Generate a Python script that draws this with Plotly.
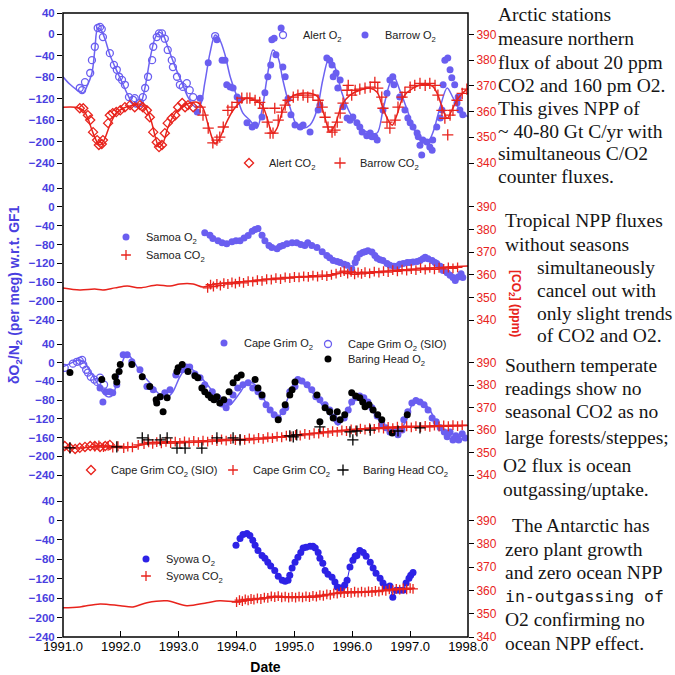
import plotly.graph_objects as go

# ------------------------------------------------------------------
# DATA  (decimal year, value) ; O2 in per meg, CO2 in ppm
# ------------------------------------------------------------------
# Panel 1 : Arctic (Alert / Barrow)
arctic_o2_fit = [(1991.00,-79),(1991.12,-93),(1991.29,-107),(1991.35,-109),(1991.41,-98),(1991.50,-72),
    (1991.55,-29),(1991.60,12),(1991.66,8),(1991.73,-10),(1991.81,-38),(1991.90,-61),(1992.02,-89),
    (1992.12,-113),(1992.24,-135),(1992.33,-132),(1992.42,-98),(1992.50,-48),(1992.59,-7),(1992.66,4),
    (1992.73,-1),(1992.81,-23),(1992.94,-61),(1993.06,-91),(1993.16,-117),(1993.28,-135),(1993.37,-132),
    (1993.45,-91),(1993.54,-35),(1993.63,-1),(1993.71,-10),(1993.80,-38),(1993.89,-79),(1994.01,-117),
    (1994.11,-147),(1994.23,-160),(1994.35,-175),(1994.44,-141),(1994.53,-79),(1994.63,-29),(1994.72,-44),
    (1994.80,-85),(1994.92,-135),(1995.04,-169),(1995.15,-175),(1995.27,-169),(1995.39,-141),(1995.49,-85),
    (1995.60,-44),(1995.70,-61),(1995.82,-109),(1995.96,-147),(1996.13,-175),(1996.31,-184),(1996.43,-184),
    (1996.53,-141),(1996.65,-91),(1996.72,-79),(1996.82,-104),(1996.95,-141),(1997.05,-173),(1997.17,-197),
    (1997.29,-203),(1997.39,-184),(1997.52,-135),(1997.64,-100),(1997.74,-118),(1997.86,-141),(1998.00,-154)]
alert_o2 = [(1991.29,-100),(1991.33,-104),(1991.38,-89),(1991.47,-72),(1991.50,-48),(1991.55,-23),
    (1991.60,12),(1991.64,14),(1991.67,10),(1991.69,-5),(1991.81,-35),(1991.88,-57),(1991.93,-66),
    (1991.97,-79),(1992.02,-85),(1992.07,-94),(1992.14,-117),(1992.21,-122),(1992.24,-119),(1992.33,-128),
    (1992.38,-117),(1992.42,-100),(1992.47,-79),(1992.54,-48),(1992.56,-23),(1992.62,-5),(1992.66,2),
    (1992.71,2),(1992.76,-8),(1992.81,-29),(1992.88,-48),(1992.90,-61),(1992.97,-79),(1993.02,-94),
    (1993.07,-98),(1993.14,-91),(1993.19,-104),(1993.25,-117),(1993.63,-3)]
barrow_o2 = [(1993.32,-145),(1993.37,-119),(1993.51,-53),(1993.66,-10),(1993.75,-48),(1993.80,-48),
    (1993.83,-94),(1993.89,-98),(1993.94,-100),(1994.01,-117),(1994.06,-122),(1994.18,-165),(1994.27,-173),
    (1994.32,-169),(1994.44,-154),(1994.49,-109),(1994.54,-79),(1994.59,-57),(1994.61,-10),(1994.65,-7),
    (1994.68,-38),(1994.77,12),(1994.80,-61),(1994.84,-79),(1994.89,-120),(1994.94,-150),(1995.01,-169),
    (1995.10,-173),(1995.15,-169),(1995.27,-182),(1995.41,-141),(1995.44,-132),(1995.56,-44),(1995.61,-48),
    (1995.65,-57),(1995.67,-79),(1995.72,-72),(1995.75,-100),(1995.79,-85),(1995.84,-135),(1995.91,-156),
    (1995.96,-160),(1996.01,-154),(1996.08,-165),(1996.13,-173),(1996.17,-182),(1996.25,-189),(1996.31,-184),
    (1996.34,-191),(1996.39,-191),(1996.43,-197),(1996.53,-141),(1996.60,-110),(1996.65,-85),(1996.70,-79),
    (1996.72,-94),(1996.82,-117),(1996.91,-141),(1996.96,-156),(1997.00,-165),(1997.05,-173),(1997.12,-184),
    (1997.14,-191),(1997.17,-207),(1997.20,-225),(1997.22,-197),(1997.29,-201),(1997.34,-210),(1997.38,-216),
    (1997.39,-197),(1997.46,-173),(1997.52,-156),(1997.55,-141),(1997.57,-94),(1997.60,-48),(1997.65,-44),
    (1997.69,-66),(1997.72,-81),(1997.77,-94),(1997.81,-128),(1997.83,-117),(1997.86,-141),(1997.91,-150)]
arctic_co2_fit = [(1991.00,361.7),(1991.21,361.7),(1991.35,360.5),(1991.43,357.4),(1991.50,352.8),
    (1991.59,348.1),(1991.64,347.0),(1991.71,348.9),(1991.81,354.7),(1991.92,359.4),(1992.04,361.3),
    (1992.21,362.5),(1992.33,362.9),(1992.43,361.3),(1992.52,356.7),(1992.61,348.9),(1992.66,346.2),
    (1992.73,347.8),(1992.81,353.6),(1992.94,359.4),(1993.06,361.7),(1993.19,363.3),(1993.32,363.6),
    (1993.42,361.3),(1993.51,354.7),(1993.59,348.9),(1993.63,347.4),(1993.71,349.7),(1993.82,355.5),
    (1993.94,360.5),(1994.06,363.6),(1994.18,365.2),(1994.32,364.4),(1994.44,362.5),(1994.53,357.4),
    (1994.59,352.8),(1994.63,351.6),(1994.70,353.6),(1994.80,360.5),(1994.92,365.2),(1995.04,366.7),
    (1995.27,367.1),(1995.41,365.6),(1995.49,360.5),(1995.58,353.6),(1995.61,352.0),(1995.70,354.7),
    (1995.82,362.5),(1995.96,366.4),(1996.13,368.3),(1996.31,369.1),(1996.43,367.5),(1996.53,361.3),
    (1996.62,356.7),(1996.69,354.7),(1996.77,358.6),(1996.88,365.6),(1997.05,369.1),(1997.26,370.6),
    (1997.39,369.8),(1997.48,366.4),(1997.57,360.5),(1997.64,357.4),(1997.72,360.5),(1997.83,365.2),
    (1998.00,369.1)]
alert_co2 = [(1991.29,361.3),(1991.35,361.3),(1991.43,358.6),(1991.47,356.7),(1991.52,352.0),(1991.59,348.9),
    (1991.62,347.0),(1991.67,347.4),(1991.69,348.9),(1991.78,355.5),(1991.81,358.6),(1991.86,359.4),
    (1991.92,359.8),(1991.99,360.5),(1992.07,361.7),(1992.16,362.5),(1992.24,361.7),(1992.33,362.5),
    (1992.38,361.7),(1992.45,360.5),(1992.50,357.8),(1992.56,352.0),(1992.62,348.1),(1992.66,346.2),
    (1992.71,347.0),(1992.76,351.6),(1992.81,355.5),(1992.88,357.4),(1992.94,358.6),(1992.99,361.7),
    (1993.06,363.3),(1993.11,361.7),(1993.16,362.5),(1993.25,361.7)]
barrow_co2 = [(1993.37,361.7),(1993.42,358.6),(1993.51,353.6),(1993.59,347.8),(1993.66,348.9),(1993.71,350.1),
    (1993.77,354.0),(1993.85,360.5),(1993.92,361.7),(1994.01,363.6),(1994.09,365.2),(1994.18,365.2),
    (1994.23,365.2),(1994.32,364.4),(1994.40,363.6),(1994.46,361.3),(1994.53,355.9),(1994.58,351.6),
    (1994.63,351.6),(1994.66,361.3),(1994.72,356.7),(1994.78,359.8),(1994.84,362.5),(1994.89,364.4),
    (1994.98,365.6),(1995.06,366.4),(1995.15,366.4),(1995.23,365.6),(1995.32,366.4),(1995.41,364.4),
    (1995.48,361.7),(1995.53,357.8),(1995.58,354.0),(1995.65,352.0),(1995.70,352.8),(1995.74,355.9),
    (1995.79,359.4),(1995.84,363.3),(1995.91,368.3),(1995.93,370.2),(1995.99,366.4),(1996.05,368.3),
    (1996.13,368.7),(1996.22,369.1),(1996.31,369.5),(1996.39,371.4),(1996.44,369.1),(1996.51,365.6),
    (1996.53,361.3),(1996.60,355.9),(1996.65,353.6),(1996.74,356.7),(1996.79,361.7),(1996.86,365.6),
    (1996.91,367.5),(1997.00,369.5),(1997.08,370.2),(1997.17,371.0),(1997.26,370.2),(1997.34,371.0),
    (1997.43,370.2),(1997.48,366.4),(1997.55,360.5),(1997.60,357.4),(1997.65,350.9),(1997.69,358.6),
    (1997.74,360.5),(1997.81,364.4),(1997.90,367.1),(1997.98,368.7)]

# Panel 2 : Samoa
samoa_o2 = [(1993.45,-55),(1993.54,-60),(1993.59,-67),(1993.68,-72),(1993.75,-76),(1993.83,-78),
    (1993.92,-74),(1993.99,-72),(1994.06,-72),(1994.13,-66),(1994.20,-61),(1994.27,-52),(1994.32,-48),
    (1994.37,-46),(1994.44,-60),(1994.49,-72),(1994.56,-82),(1994.61,-86),(1994.70,-89),(1994.75,-84),
    (1994.80,-82),(1994.87,-78),(1994.96,-76),(1995.04,-76),(1995.11,-80),(1995.18,-82),(1995.23,-76),
    (1995.30,-82),(1995.39,-86),(1995.48,-95),(1995.56,-103),(1995.61,-108),(1995.67,-114),(1995.74,-116),
    (1995.79,-118),(1995.86,-122),(1995.91,-124),(1995.99,-131),(1996.05,-118),(1996.08,-109),(1996.13,-100),
    (1996.18,-97),(1996.22,-95),(1996.27,-93),(1996.34,-96),(1996.39,-103),(1996.43,-109),(1996.48,-112),
    (1996.53,-114),(1996.60,-120),(1996.65,-124),(1996.72,-126),(1996.77,-126),(1996.82,-122),(1996.88,-120),
    (1996.95,-118),(1997.00,-118),(1997.05,-117),(1997.12,-116),(1997.17,-114),(1997.22,-110),(1997.26,-107),
    (1997.31,-110),(1997.38,-114),(1997.43,-118),(1997.46,-120),(1997.52,-126),(1997.57,-135),(1997.64,-140),
    (1997.69,-145),(1997.74,-150),(1997.78,-156),(1997.83,-149),(1997.88,-142),(1997.91,-150)]
samoa_co2_fit = [(1991.00,354.2),(1991.29,353.3),(1991.55,353.7),(1991.69,353.3),(1991.90,354.2),
    (1992.11,355.0),(1992.33,354.2),(1992.62,355.5),(1992.85,355.0),(1993.02,355.9),(1993.25,355.9),
    (1993.42,354.6),(1993.63,355.9),(1994.06,356.8),(1994.58,358.1),(1995.10,359.0),(1995.61,359.5),
    (1995.87,361.2),(1996.13,360.8),(1996.65,361.7),(1997.17,362.6),(1997.69,363.5),(1998.00,363.9)]
samoa_co2 = [(1993.50,354.2),(1993.55,355.6),(1993.60,354.8),(1993.66,356.0),(1993.72,355.2),(1993.78,356.3),
    (1993.85,355.9),(1993.92,356.6),(1993.98,356.1),(1994.05,356.9),(1994.12,356.4),(1994.20,357.2),
    (1994.28,357.0),(1994.36,357.6),(1994.44,357.3),(1994.52,358.0),(1994.60,357.8),(1994.68,358.5),
    (1994.76,358.1),(1994.84,358.8),(1994.92,358.5),(1995.00,359.0),(1995.08,358.8),(1995.16,359.3),
    (1995.24,359.1),(1995.32,359.6),(1995.40,359.2),(1995.48,359.8),(1995.56,359.4),(1995.64,360.0),
    (1995.72,360.5),(1995.80,361.2),(1995.86,361.6),(1995.92,360.5),(1995.98,361.3),(1996.04,360.2),
    (1996.10,361.0),(1996.16,360.4),(1996.22,361.2),(1996.30,360.6),(1996.38,361.4),(1996.46,360.9),
    (1996.54,361.6),(1996.62,361.2),(1996.70,362.0),(1996.78,361.5),(1996.86,362.3),(1996.94,361.8),
    (1997.02,362.5),(1997.10,362.0),(1997.18,362.9),(1997.26,362.3),(1997.34,363.0),(1997.42,362.4),
    (1997.50,363.1),(1997.58,362.6),(1997.66,363.2),(1997.74,362.8),(1997.82,363.3)]

# Panel 3 : Southern temperate (Cape Grim / Baring Head)
south_o2_fit = [(1991.00,-9),(1991.12,-2),(1991.26,6),(1991.36,2),(1991.47,-19),(1991.59,-43),(1991.69,-64),
    (1991.78,-73),(1991.86,-69),(1991.95,-32),(1992.04,6),(1992.09,17),(1992.16,13),(1992.28,-9),(1992.38,-26),
    (1992.50,-43),(1992.62,-62),(1992.73,-73),(1992.81,-73),(1992.90,-62),(1993.02,-30),(1993.13,-11),
    (1993.19,-11),(1993.28,-19),(1993.42,-36),(1993.54,-54),(1993.66,-73),(1993.80,-86),(1993.89,-90),
    (1993.97,-79),(1994.06,-64),(1994.15,-47),(1994.23,-41),(1994.32,-47),(1994.46,-75),(1994.58,-101),
    (1994.70,-118),(1994.79,-105),(1994.89,-75),(1994.98,-49),(1995.06,-41),(1995.18,-47),(1995.30,-62),
    (1995.44,-84),(1995.58,-107),(1995.67,-122),(1995.75,-133),(1995.84,-122),(1995.93,-101),(1996.01,-79),
    (1996.08,-73),(1996.17,-75),(1996.27,-90),(1996.39,-111),(1996.53,-133),(1996.65,-146),(1996.76,-150),
    (1996.86,-139),(1996.95,-118),(1997.03,-90),(1997.12,-79),(1997.22,-84),(1997.34,-101),(1997.46,-129),
    (1997.57,-148),(1997.69,-156),(1997.81,-158),(1997.95,-154)]
capegrim_o2_sio = [(1991.03,-11),(1991.17,-2),(1991.24,2),(1991.29,4),(1991.33,6),(1991.35,-4),(1991.40,-15),
    (1991.43,-21),(1991.48,-30),(1991.54,-36),(1991.59,-41),(1991.64,-32),(1991.71,-47)]
capegrim_o2 = [(1991.64,-54),(1991.69,-84),(1991.74,-62),(1991.81,-62),(1991.86,-64),(1991.93,-47),
    (1992.04,17),(1992.11,17),(1992.19,2),(1992.33,-15),(1992.45,-51),(1992.56,-58),(1992.68,-73),(1992.76,-64),
    (1992.85,-58),(1992.95,-26),(1993.06,-15),(1993.13,-9),(1993.19,-9),(1993.28,-24),(1993.37,-32),
    (1993.45,-47),(1993.58,-62),(1993.68,-75),(1993.75,-88),(1993.82,-96),(1993.87,-84),(1993.94,-69),
    (1994.02,-54),(1994.11,-47),(1994.20,-43),(1994.28,-54),(1994.37,-62),(1994.44,-73),(1994.51,-90),
    (1994.58,-101),(1994.65,-111),(1994.72,-118),(1994.80,-105),(1994.85,-96),(1994.92,-62),(1995.01,-51),
    (1995.06,-36),(1995.13,-39),(1995.22,-47),(1995.30,-58),(1995.37,-73),(1995.44,-79),(1995.53,-90),
    (1995.61,-101),(1995.68,-116),(1995.75,-126),(1995.86,-118),(1995.93,-101),(1995.99,-84),(1996.06,-75),
    (1996.13,-71),(1996.20,-75),(1996.27,-84),(1996.34,-96),(1996.43,-114),(1996.51,-131),(1996.58,-139),
    (1996.65,-148),(1996.74,-144),(1996.79,-154),(1996.86,-144),(1996.89,-122),(1996.96,-105),(1997.03,-86),
    (1997.10,-81),(1997.17,-84),(1997.24,-90),(1997.31,-101),(1997.38,-118),(1997.45,-126),(1997.52,-139),
    (1997.59,-148),(1997.64,-158),(1997.69,-148),(1997.74,-165),(1997.79,-156),(1997.84,-165),(1997.90,-152),
    (1997.95,-161)]
baringhead_o2 = [(1991.12,-21),(1991.67,-36),(1991.90,-30),(1991.93,-41),(1991.97,-19),(1991.99,-4),
    (1992.19,-4),(1992.37,-30),(1992.50,-51),(1992.61,-79),(1992.62,-86),(1992.68,-73),(1992.73,-105),
    (1992.80,-75),(1992.97,-19),(1992.99,-11),(1993.06,-4),(1993.16,-19),(1993.28,-28),(1993.33,-32),
    (1993.40,-54),(1993.45,-62),(1993.51,-69),(1993.56,-75),(1993.61,-79),(1993.66,-73),(1993.71,-86),
    (1993.78,-79),(1993.87,-62),(1993.94,-43),(1994.01,-32),(1994.08,-26),(1994.32,-36),(1994.37,-54),
    (1994.44,-69),(1994.72,-122),(1994.84,-90),(1994.92,-69),(1994.96,-58),(1995.01,-41),(1995.39,-69),
    (1995.44,-126),(1995.53,-96),(1995.61,-105),(1995.67,-118),(1995.74,-105),(1995.79,-122),(1995.87,-111),
    (1995.99,-64),(1996.06,-71),(1996.13,-75),(1996.18,-84),(1996.22,-94),(1996.29,-90),(1996.36,-101),
    (1996.44,-111),(1996.51,-122),(1996.69,-150),(1996.95,-111)]
south_co2_fit = [(1991.00,352.5),(1991.29,352.0),(1991.64,353.0),(1991.90,352.5),(1992.21,352.5),
    (1992.50,354.3),(1992.94,354.3),(1993.37,354.7),(1993.94,355.6),(1994.23,355.6),(1994.80,357.0),
    (1995.39,358.7),(1995.96,360.1),(1996.53,361.0),(1997.12,361.4),(1997.69,361.9),(1998.00,362.0)]
capegrim_co2_sio = [(1991.03,352.9),(1991.12,352.1),(1991.21,351.6),(1991.29,352.1),(1991.38,352.5),
    (1991.47,352.9),(1991.55,352.9),(1991.64,352.5),(1991.73,352.9),(1991.81,353.4)]
capegrim_co2 = [(1991.55,352.6),(1991.62,353.2),(1991.70,352.4),(1991.78,353.0),(1991.86,352.2),(1991.95,352.8),
    (1992.05,352.0),(1992.12,352.6),(1992.20,352.3),(1992.30,353.4),(1992.40,353.8),(1992.48,354.5),
    (1992.55,353.9),(1992.62,354.6),(1992.70,354.1),(1992.78,354.8),(1992.86,354.2),(1992.94,354.9),
    (1993.02,354.3),(1993.10,355.0),(1993.18,354.5),(1993.26,355.2),(1993.34,354.6),(1993.42,355.3),
    (1993.50,354.9),(1993.58,355.6),(1993.66,355.1),(1993.74,355.8),(1993.82,355.3),(1993.90,356.0),
    (1993.98,355.5),(1994.06,356.0),(1994.14,355.6),(1994.22,356.3),(1994.30,355.9),(1994.38,356.5),
    (1994.46,356.1),(1994.54,356.8),(1994.62,356.4),(1994.70,357.1),(1994.78,356.8),(1994.86,357.5),
    (1994.94,357.2),(1995.02,357.9),(1995.10,357.6),(1995.18,358.3),(1995.26,357.9),(1995.34,358.6),
    (1995.42,358.4),(1995.50,359.2),(1995.58,358.8),(1995.66,359.5),(1995.74,359.2),(1995.82,359.9),
    (1995.90,359.6),(1995.98,360.3),(1996.06,359.9),(1996.14,360.6),(1996.22,360.2),(1996.30,360.9),
    (1996.38,360.5),(1996.46,361.1),(1996.54,360.7),(1996.62,361.4),(1996.70,360.9),(1996.78,361.5),
    (1996.86,361.1),(1996.94,361.7),(1997.02,361.2),(1997.10,361.8),(1997.18,361.3),(1997.26,361.9),
    (1997.34,361.4),(1997.42,362.0),(1997.50,361.6),(1997.58,362.1),(1997.66,361.7),(1997.74,362.2),
    (1997.82,361.8),(1997.90,362.2)]
baringhead_co2 = [(1991.12,352.1),(1991.93,352.5),(1992.37,356.5),(1992.47,355.6),(1992.68,355.6),
    (1992.80,356.5),(1992.97,352.0),(1993.11,352.0),(1993.40,352.0),(1993.66,356.5),(1993.94,356.5),
    (1994.06,355.6),(1994.92,357.4),(1994.98,357.0),(1995.04,357.9),(1995.44,361.4),(1995.96,359.2),
    (1996.01,355.6),(1996.08,359.6),(1996.31,360.0),(1996.79,359.6),(1997.17,361.0)]

# Panel 4 : Antarctic (Syowa)
syowa_o2 = [(1993.99,-51),(1994.06,-37),(1994.11,-29),(1994.18,-27),(1994.23,-31),(1994.28,-41),(1994.32,-51),
    (1994.37,-62),(1994.44,-72),(1994.49,-78),(1994.54,-86),(1994.59,-94),(1994.66,-103),(1994.72,-115),
    (1994.79,-123),(1994.84,-125),(1994.89,-123),(1994.92,-113),(1994.96,-98),(1995.01,-86),(1995.06,-76),
    (1995.11,-66),(1995.15,-57),(1995.20,-55),(1995.27,-53),(1995.32,-53),(1995.36,-57),(1995.41,-66),
    (1995.44,-78),(1995.49,-88),(1995.53,-103),(1995.58,-111),(1995.65,-117),(1995.70,-127),(1995.74,-137),
    (1995.79,-139),(1995.82,-139),(1995.87,-133),(1995.91,-123),(1995.96,-96),(1996.01,-82),(1996.05,-74),
    (1996.08,-72),(1996.13,-62),(1996.19,-66),(1996.24,-74),(1996.31,-86),(1996.36,-98),(1996.41,-109),
    (1996.48,-119),(1996.53,-129),(1996.58,-137),(1996.65,-135),(1996.70,-158),(1996.76,-144),(1996.82,-144),
    (1996.88,-144),(1996.93,-129),(1996.98,-119),(1997.01,-113),(1997.05,-107)]
syowa_co2_fit = [(1991.00,352.5),(1991.29,352.9),(1991.64,354.2),(1991.99,353.4),(1992.21,352.9),
    (1992.45,354.7),(1992.80,355.5),(1993.14,353.4),(1993.49,354.7),(1993.71,355.5),(1994.01,355.1),
    (1994.23,356.0),(1994.70,357.2),(1995.39,357.2),(1995.74,359.0),(1996.25,359.4),(1996.82,360.7),
    (1997.05,360.7)]
syowa_co2 = [(1994.00,355.0),(1994.05,355.8),(1994.10,355.4),(1994.15,356.1),(1994.20,355.7),(1994.25,356.3),
    (1994.30,356.0),(1994.36,356.6),(1994.42,356.3),(1994.48,356.9),(1994.54,356.8),(1994.60,357.4),
    (1994.66,357.1),(1994.72,357.5),(1994.78,357.0),(1994.84,357.3),(1994.90,356.9),(1994.96,357.2),
    (1995.02,356.9),(1995.08,357.3),(1995.14,357.0),(1995.20,357.4),(1995.26,357.1),(1995.32,357.6),
    (1995.38,357.3),(1995.44,357.9),(1995.50,357.7),(1995.56,358.3),(1995.62,358.1),(1995.68,358.7),
    (1995.74,358.6),(1995.80,359.2),(1995.86,358.8),(1995.92,359.3),(1995.98,358.9),(1996.04,359.4),
    (1996.10,359.0),(1996.16,359.5),(1996.22,359.1),(1996.28,359.6),(1996.34,359.3),(1996.40,359.8),
    (1996.46,359.5),(1996.52,360.0),(1996.58,359.8),(1996.64,360.4),(1996.70,360.1),(1996.76,360.6),
    (1996.82,360.3),(1996.88,360.8),(1996.94,360.4),(1997.00,360.9),(1997.05,360.6)]

o2_ticks = [-240, -200, -160, -120, -80, -40, 0, 40]
co2_ticks = [340, 350, 360, 370, 380, 390]
year_ticks = [1991, 1992, 1993, 1994, 1995, 1996, 1997, 1998]
year_labels = ["1991.0", "1992.0", "1993.0", "1994.0", "1995.0", "1996.0", "1997.0", "1998.0"]

# ------------------------------------------------------------------
# STYLE / LAYOUT
# ------------------------------------------------------------------
W = H = 675
ML, MR, MT, MB = 63, 207, 13, 38
PW, PH = W - ML - MR, H - MT - MB

def px_x(p):
    return (p - ML) / PW

def px_y(p):
    return (H - MB - p) / PH

BLUE = "#6a5ef0"
BLUE_LINE = "#6d63f2"
DBLUE = "#2d22e6"
BLUE_TXT = "#4a3fe0"
RED = "#e8231c"
SANS = "Liberation Sans, Arial, sans-serif"
SERIF = "Liberation Serif, Times New Roman, serif"

# panel pixel extents (top = O2 40, bottom = O2 -240)
panels_px = [(13, 163), (188, 320), (344, 475), (501, 637)]
domains = [[px_y(b), px_y(t)] for t, b in panels_px]

fig = go.Figure()

def xs(d):
    return [p[0] for p in d]

def ys(d):
    return [p[1] for p in d]

def fit(d, yax, color, width=1.5, shape="spline"):
    fig.add_trace(go.Scatter(x=xs(d), y=ys(d), mode="lines", yaxis=yax, showlegend=False,
                             hoverinfo="skip", line=dict(color=color, width=width, shape=shape, smoothing=0.9)))

def pts(d, yax, name, legend, symbol, color, size=7, lw=1.3):
    fig.add_trace(go.Scatter(x=xs(d), y=ys(d), mode="markers", yaxis=yax, name=name, legend=legend,
                             marker=dict(symbol=symbol, size=size, color=color, line=dict(width=lw, color=color))))

# Panel 1
fit(arctic_o2_fit, "y", BLUE_LINE)
fit(arctic_co2_fit, "y2", RED)
pts(alert_o2, "y", "Alert O<sub>2</sub>", "legend", "circle-open", BLUE)
pts(barrow_o2, "y", "Barrow O<sub>2</sub>", "legend2", "circle", BLUE, lw=0)
pts(alert_co2, "y2", "Alert CO<sub>2</sub>", "legend3", "diamond-open", RED)
pts(barrow_co2, "y2", "Barrow CO<sub>2</sub>", "legend4", "cross-thin-open", RED, size=8)
# Panel 2
fit(samoa_co2_fit, "y4", RED)
fit(samoa_o2, "y3", BLUE_LINE, width=1, shape="linear")
pts(samoa_o2, "y3", "Samoa O<sub>2</sub>", "legend5", "circle", BLUE, lw=0)
pts(samoa_co2, "y4", "Samoa CO<sub>2</sub>", "legend6", "cross-thin-open", RED, size=7)
# Panel 3
fit(south_o2_fit, "y5", BLUE_LINE)
fit(south_co2_fit, "y6", RED)
pts(capegrim_o2, "y5", "Cape Grim O<sub>2</sub>", "legend7", "circle", BLUE, lw=0)
pts(capegrim_o2_sio, "y5", "Cape Grim O<sub>2</sub> (SIO)", "legend8", "circle-open", BLUE)
pts(baringhead_o2, "y5", "Baring Head O<sub>2</sub>", "legend9", "circle", "black", lw=0)
pts(capegrim_co2_sio, "y6", "Cape Grim CO<sub>2</sub> (SIO)", "legend10", "diamond-open", RED)
pts(capegrim_co2, "y6", "Cape Grim CO<sub>2</sub>", "legend11", "cross-thin-open", RED, size=7)
pts(baringhead_co2, "y6", "Baring Head CO<sub>2</sub>", "legend12", "cross-thin-open", "black", size=8)
# Panel 4
fit(syowa_co2_fit, "y8", RED)
fit(syowa_o2, "y7", DBLUE, width=1, shape="linear")
pts(syowa_o2, "y7", "Syowa O<sub>2</sub>", "legend13", "circle", DBLUE, lw=0)
pts(syowa_co2, "y8", "Syowa CO<sub>2</sub>", "legend14", "cross-thin-open", RED, size=7)

# legend symbol centres (pixels)
legend_sym_px = {
    "legend": (283, 35), "legend2": (365, 35), "legend3": (249, 163), "legend4": (340, 163),
    "legend5": (126, 237), "legend6": (126, 255),
    "legend7": (224, 343), "legend8": (328, 344), "legend9": (328, 359),
    "legend10": (91, 470), "legend11": (233, 470), "legend12": (343, 470),
    "legend13": (146, 559), "legend14": (146, 576),
}
layout = dict(
    width=W, height=H, margin=dict(l=ML, r=MR, t=MT, b=MB, autoexpand=False),
    paper_bgcolor="white", plot_bgcolor="white", showlegend=True,
    font=dict(family=SANS, color="black"),
)
for key, (sx, sy) in legend_sym_px.items():
    layout[key] = dict(x=px_x(sx - 20), y=px_y(sy), xanchor="left", yanchor="middle",
                       bgcolor="rgba(0,0,0,0)", borderwidth=0, itemsizing="trace",
                       font=dict(family=SANS, size=11, color="#222"))

layout["xaxis"] = dict(domain=[0, 1], range=[1991, 1998], anchor="free", position=0, automargin=False,
                       tickvals=year_ticks, ticktext=year_labels, ticks="inside", ticklen=6,
                       tickwidth=1.2, tickcolor="black", showgrid=False, zeroline=False, showline=False,
                       tickfont=dict(family=SANS, size=13, color="black"),
                       title=dict(text="<b>Date</b>", font=dict(family=SANS, size=14, color="black"), standoff=9))
layout["xaxis2"] = dict(overlaying="x", matches="x", side="top", anchor="free", position=1, automargin=False,
                        range=[1991, 1998], tickvals=year_ticks[1:-1], ticks="inside", ticklen=6,
                        tickwidth=1.2, tickcolor="black", showticklabels=False, showgrid=False,
                        zeroline=False, showline=False)
for k, dom in enumerate(domains):
    o2_name = "yaxis" if k == 0 else f"yaxis{2 * k + 1}"
    o2_ref = "y" if k == 0 else f"y{2 * k + 1}"
    co2_name = f"yaxis{2 * k + 2}"
    layout[o2_name] = dict(domain=dom, range=[-240, 40], anchor="x", tickvals=o2_ticks, ticks="outside",
                           ticklen=5, tickwidth=1.2, tickcolor="black", showgrid=False, zeroline=False,
                           showline=False, automargin=False,
                           tickfont=dict(family=SANS, size=11.5, color=BLUE_TXT, weight="bold"))
    layout[co2_name] = dict(domain=dom, overlaying=o2_ref, side="right", anchor="x", automargin=False,
                            range=[340, 340 + 280 / 4.8], tickvals=co2_ticks, ticks="outside",
                            ticklen=5, tickwidth=1.2, tickcolor="black", showgrid=False, zeroline=False,
                            showline=False, tickfont=dict(family=SANS, size=12, color=RED))

layout["shapes"] = [dict(type="rect", xref="paper", yref="paper", x0=0, x1=1, y0=0, y1=1,
                         line=dict(color="black", width=1.5), fillcolor="rgba(0,0,0,0)", layer="above")]

# right-hand commentary, one annotation per line: (text, left px, centre px, font)
mono = "DejaVu Sans Mono, monospace"
notes = [
    ("Arctic stations", 496, 15, SERIF), ("measure northern", 496, 39, SERIF),
    ("flux of about 20 ppm", 496, 62, SERIF), ("CO2 and 160 pm O2.", 496, 85, SERIF),
    ("This gives NPP of", 496, 108, SERIF), ("~ 40-80 Gt C/yr with", 496, 131, SERIF),
    ("simultaneous C/O2", 496, 154, SERIF), ("counter fluxes.", 496, 177, SERIF),
    ("Tropical NPP fluxes", 503, 220, SERIF), ("without seasons", 503, 244, SERIF),
    ("simultaneously", 535, 267, SERIF), ("cancel out with", 535, 290, SERIF),
    ("only slight trends", 535, 313, SERIF), ("of CO2 and O2.", 535, 336, SERIF),
    ("Southern temperate", 503, 365, SERIF), ("readings show no", 503, 388, SERIF),
    ("seasonal CO2 as no", 503, 411, SERIF), ("large forests/steppes;", 503, 437, SERIF),
    ("O2 flux is ocean", 501, 465, SERIF), ("outgassing/uptake.", 501, 490, SERIF),
    ("The Antarctic has", 510, 525, SERIF), ("zero plant growth", 503, 549, SERIF),
    ("and zero ocean NPP", 503, 572, SERIF), ("in-outgassing of", 503, 596, mono),
    ("O2 confirming no", 503, 619, SERIF), ("ocean NPP effect.", 503, 643, SERIF),
]
ann = []
for text, lx, cy, fam in notes:
    ann.append(dict(text=text, xref="paper", yref="paper", x=px_x(lx), y=px_y(cy), xanchor="left",
                    yanchor="middle", showarrow=False,
                    font=dict(family=fam, size=16.5 if fam == mono else 19.5, color="#151515")))
ann.append(dict(text="<b>δO<sub>2</sub>/N<sub>2</sub> (per meg) w.r.t. GF1</b>", xref="paper", yref="paper",
                x=px_x(15), y=px_y(295), xanchor="center", yanchor="middle", textangle=-90, showarrow=False,
                font=dict(family=SANS, size=14, color=BLUE_TXT)))
ann.append(dict(text="<b>[CO<sub>2</sub>] (ppm)</b>", xref="paper", yref="paper",
                x=px_x(515), y=px_y(303), xanchor="center", yanchor="middle", textangle=90, showarrow=False,
                font=dict(family=SANS, size=12, color=RED)))
layout["annotations"] = ann

fig.update_layout(**layout)
fig.write_html("out.html", config={"displayModeBar": False},
               post_script="document.body.style.margin='0px';")
